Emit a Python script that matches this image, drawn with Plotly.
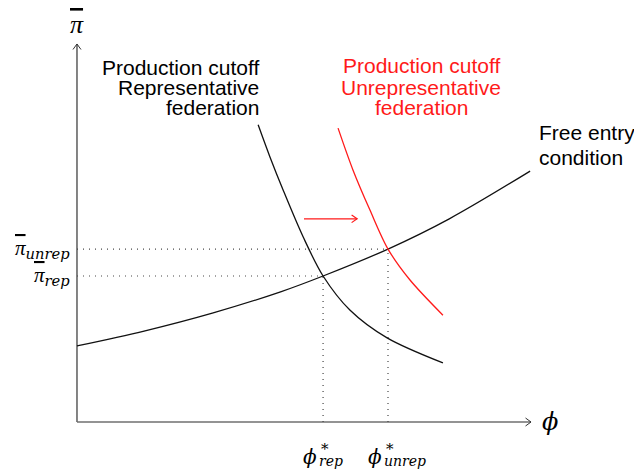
import plotly.graph_objects as go

# ---- data (model units: phi on x, pi-bar on y) ----
fe_phi = [0.0, 1.5, 3.0, 4.5, 5.42, 6.85, 8.2, 9.98]
fe_pi = [1.61, 1.93, 2.31, 2.76, 3.09, 3.66, 4.30, 5.31]

rep_phi = [3.99, 4.25, 4.54, 4.98, 5.42, 6.01, 6.83, 8.06]
rep_pi = [6.29, 5.61, 4.91, 3.92, 3.09, 2.37, 1.78, 1.25]

unrep_phi = [5.75, 6.08, 6.45, 6.85, 7.33, 8.06]
unrep_pi = [6.22, 5.33, 4.49, 3.66, 3.01, 2.26]

eq_phi = [5.42, 6.85]          # phi*_rep, phi*_unrep
eq_pi = [3.09, 3.66]           # pi_rep, pi_unrep

shift_phi = [5.00, 6.17]       # red shift arrow
shift_pi = [4.30, 4.30]

axis_phi_max = 10.0
axis_pi_max = 8.0

rep_label = ["Production cutoff", "Representative", "federation"]
unrep_label = ["Production cutoff", "Unrepresentative", "federation"]
fe_label = ["Free entry", "condition"]

# ---- layout geometry ----
W, H = 634, 469
ML, MR, MT, MB = 57, 83, 24, 27
XR = [-0.44, 10.44]
YR = [-0.423, 8.423]
sx = (W - ML - MR) / (XR[1] - XR[0])   # px per phi unit
sy = (H - MT - MB) / (YR[1] - YR[0])   # px per pi unit

SANS = "Liberation Sans, Arial, sans-serif"
SERIF = "DejaVu Serif, serif"
PI = ('<span style="font-family:Liberation Serif;'
      'text-decoration:overline">\u03c0</span>')

fig = go.Figure()


def line(x, y, color, width, dash=None, shape="linear", smoothing=1.0):
    fig.add_trace(go.Scatter(
        x=x, y=y, mode="lines", hoverinfo="skip", showlegend=False,
        line=dict(color=color, width=width, dash=dash, shape=shape,
                  smoothing=smoothing)))


def head(tx, ty, dxu, dyu, color, back=5.5, half=4.0, width=1.0):
    # open chevron arrowhead at tip (tx, ty) pointing along pixel dir (dxu, dyu)
    px_back = -dxu * back
    py_back = -dyu * back
    nx, ny = -dyu, dxu
    p1 = (tx + (px_back + nx * half) / sx, ty - (py_back + ny * half) / sy)
    p2 = (tx + (px_back - nx * half) / sx, ty - (py_back - ny * half) / sy)
    line([p1[0], tx, p2[0]], [p1[1], ty, p2[1]], color, width)


# axes
line([0, axis_phi_max], [0, 0], "#6f6f6f", 1.7)
line([0, 0], [0, axis_pi_max], "#6f6f6f", 1.7)
head(axis_phi_max, 0, 1, 0, "#333333")
head(0, axis_pi_max, 0, -1, "#333333")

# dotted guides
for p, q in zip(eq_phi, eq_pi):
    line([0, p], [q, q], "#444444", 1.2, dash="1px,5px")
    line([p, p], [0, q], "#444444", 1.2, dash="1px,5px")

# curves
line(fe_phi, fe_pi, "#111111", 1.3, shape="spline", smoothing=1.0)
line(rep_phi, rep_pi, "#111111", 1.3, shape="spline", smoothing=0.9)
line(unrep_phi, unrep_pi, "#ff1a1a", 1.3, shape="spline", smoothing=0.9)

# shift arrow
line(shift_phi, shift_pi, "#ff1a1a", 1.3)
head(shift_phi[1], shift_pi[1], 1, 0, "#ff1a1a", back=5.5, half=3.8, width=1.2)

ann = []


def text(x, y, s, size, color="black", family=SANS, xanchor="center",
         xshift=0, yshift=0):
    ann.append(dict(x=x, y=y, xref="x", yref="y", text=s, showarrow=False,
                    font=dict(family=family, size=size, color=color),
                    xanchor=xanchor, yanchor="middle",
                    xshift=xshift, yshift=yshift))


# curve labels
for i, s in enumerate(rep_label):
    text(4.05, [7.51, 7.07, 6.65][i], s, 21, xanchor="right")
for i, s in enumerate(unrep_label):
    text(7.58, [7.55, 7.07, 6.65][i], s, 21, color="#ff1a1a")
for i, s in enumerate(fe_label):
    text(10.13, [6.12, 5.59][i], s, 21, xanchor="left")

# axis titles
text(0, axis_pi_max, "<i>" + PI + "</i>", 26, family=SERIF, yshift=19)
text(axis_phi_max, 0, "<i>\u03d5</i>", 24, family=SERIF, xanchor="left",
     xshift=9)

# pi labels on the y axis
text(0, eq_pi[1], "<i>" + PI + "<sub>unrep</sub></i>", 21, family=SERIF,
     xanchor="right", xshift=-5)
text(0, eq_pi[0], "<i>" + PI + "<sub>rep</sub></i>", 21, family=SERIF,
     xanchor="right", xshift=-5)

# phi labels below the x axis
for p, sub in zip(eq_phi, ["rep", "unrep"]):
    text(p, 0, "<i>\u03d5</i>", 20, family=SERIF, xanchor="right",
         xshift=-4, yshift=-35)
    text(p, 0, "*", 15, family=SERIF, xanchor="left", xshift=-4, yshift=-27)
    text(p, 0, "<i>" + sub + "</i>", 14, family=SERIF, xanchor="left",
         xshift=-6, yshift=-39)

fig.update_layout(
    width=W, height=H,
    margin=dict(l=ML, r=MR, t=MT, b=MB, pad=0),
    paper_bgcolor="white", plot_bgcolor="white",
    xaxis=dict(range=XR, visible=False, fixedrange=True),
    yaxis=dict(range=YR, visible=False, fixedrange=True),
    annotations=ann,
    showlegend=False,
)

fig.write_html(
    "out.html",
    config={"displayModeBar": False, "staticPlot": True},
    post_script="document.body.style.margin='0';"
                "document.body.style.overflow='hidden';",
)
